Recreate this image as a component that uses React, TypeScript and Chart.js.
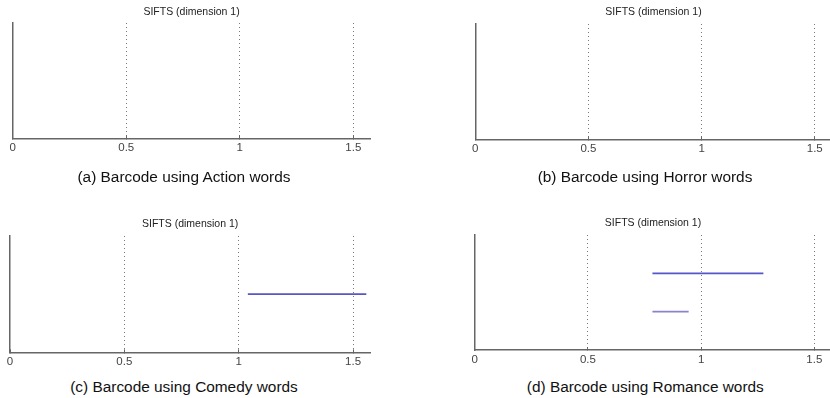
import React, { useEffect, useRef } from "react";
import { Chart, registerables } from "chart.js";

Chart.register(...registerables);

// ---- data ----
const xTickValues = [0, 0.5, 1, 1.5];
const xAxisMax = 1.575;
const panelTitle = "SIFTS (dimension 1)";
const captions = [
  "(a) Barcode using Action words",
  "(b) Barcode using Horror words",
  "(c) Barcode using Comedy words",
  "(d) Barcode using Romance words",
];

const actionStart: number[] = [];
const actionEnd: number[] = [];
const actionLevel: number[] = [];

const horrorStart: number[] = [];
const horrorEnd: number[] = [];
const horrorLevel: number[] = [];

const comedyStart = [1.04];
const comedyEnd = [1.558];
const comedyLevel = [1];

const romanceStart = [0.785, 0.785];
const romanceEnd = [1.275, 0.945];
const romanceLevel = [2, 1];

const levelMax = [1, 1, 2, 3];
const barColors = ["#5656c6", "#8a82ca"];

// ---- layout (pixels) ----
const FONT = "'Liberation Sans', Arial, Helvetica, sans-serif";
type Geo = {
  left: number; top: number; width: number; height: number;
  areaLeft: number; areaRight: number; areaTop: number; areaBottom: number;
  titleY: number; captionX: number; captionY: number;
};
const geos: Geo[] = [
  { left: 0, top: 0, width: 400, height: 175, areaLeft: 12.7, areaRight: 370.4, areaTop: 23, areaBottom: 138.3, titleY: 11.7, captionX: 184, captionY: 177 },
  { left: 415, top: 0, width: 420, height: 175, areaLeft: 475.3, areaRight: 831.7, areaTop: 24, areaBottom: 139.3, titleY: 12, captionX: 645, captionY: 177 },
  { left: 0, top: 200, width: 400, height: 175, areaLeft: 10, areaRight: 370.2, areaTop: 236, areaBottom: 352.3, titleY: 224.2, captionX: 184, captionY: 386.7 },
  { left: 415, top: 200, width: 420, height: 175, areaLeft: 474.7, areaRight: 831.3, areaTop: 235, areaBottom: 350, titleY: 223.5, captionX: 645.3, captionY: 386.7 },
];

const panelStarts = [actionStart, horrorStart, comedyStart, romanceStart];
const panelEnds = [actionEnd, horrorEnd, comedyEnd, romanceEnd];
const panelLevels = [actionLevel, horrorLevel, comedyLevel, romanceLevel];

const X_AXIS_H = 20;
const TITLE_LH = 12.6; // 10.5px * 1.2

function Panel({ idx }: { idx: number }) {
  const ref = useRef<HTMLCanvasElement | null>(null);
  const g = geos[idx];
  useEffect(() => {
    if (!ref.current) return;
    const starts = panelStarts[idx];
    const ends = panelEnds[idx];
    const levels = panelLevels[idx];
    const titleTopPad = g.titleY - g.top - TITLE_LH / 2;
    const titleBottomPad = g.areaTop - g.titleY - TITLE_LH / 2;
    const chart = new Chart(ref.current, {
      type: "line",
      data: {
        datasets: starts.map((s, i) => ({
          data: [
            { x: s, y: levels[i] },
            { x: ends[i], y: levels[i] },
          ],
          borderColor: barColors[i % barColors.length],
          backgroundColor: barColors[i % barColors.length],
          borderWidth: 1.6,
          pointRadius: 0,
          fill: false,
          tension: 0,
        })),
      },
      options: {
        animation: false,
        responsive: false,
        maintainAspectRatio: false,
        events: [],
        layout: {
          padding: {
            left: g.areaLeft - g.left,
            right: g.left + g.width - g.areaRight,
            top: 0,
            bottom: g.top + g.height - g.areaBottom - X_AXIS_H,
          },
        },
        plugins: {
          legend: { display: false },
          tooltip: { enabled: false },
          title: {
            display: true,
            text: panelTitle,
            fullSize: false,
            color: "#222",
            font: { family: FONT, size: 10.5, weight: "normal", lineHeight: 1.2 },
            padding: { top: titleTopPad, bottom: titleBottomPad },
          },
        },
        scales: {
          x: {
            type: "linear",
            min: 0,
            max: xAxisMax,
            afterBuildTicks: (s: any) => {
              s.ticks = xTickValues.map((v) => ({ value: v }));
            },
            afterFit: (s: any) => {
              s.height = X_AXIS_H;
            },
            ticks: {
              color: "#444",
              font: { family: FONT, size: 11.5 },
              padding: 6,
              maxRotation: 0,
              autoSkip: false,
              callback: (v: any) => String(v),
            },
            grid: {
              color: (c: any) => (c.tick && c.tick.value === 0 ? "rgba(0,0,0,0)" : "#7a7a7a"),
              lineWidth: 1,
              drawTicks: true,
              tickLength: -3,
              tickColor: "#666",
              tickWidth: 1,
              tickBorderDash: [],
            },
            border: { display: true, color: "#666", width: 1.5, dash: [1, 3] },
          },
          y: {
            type: "linear",
            min: 0,
            max: levelMax[idx],
            ticks: { display: false },
            grid: { display: false, drawTicks: false },
            border: { display: true, color: "#666", width: 1.5 },
            afterFit: (s: any) => {
              s.width = 0;
            },
          },
        },
      },
    } as any);
    return () => chart.destroy();
  }, [idx]);
  return (
    <canvas
      ref={ref}
      width={g.width}
      height={g.height}
      style={{ position: "absolute", left: g.left, top: g.top, width: g.width, height: g.height }}
    />
  );
}

export default function App() {
  return (
    <div
      style={{
        position: "fixed",
        left: 0,
        top: 0,
        width: 830,
        height: 398,
        overflow: "hidden",
        background: "#fff",
      }}
    >
      {geos.map((g, i) => (
        <Panel key={i} idx={i} />
      ))}
      {geos.map((g, i) => (
        <div
          key={"c" + i}
          style={{
            position: "absolute",
            left: g.captionX - 200,
            width: 400,
            top: g.captionY - 9,
            height: 18,
            lineHeight: "18px",
            textAlign: "center",
            fontFamily: FONT,
            fontSize: 15.4,
            color: "#111",
            whiteSpace: "nowrap",
          }}
        >
          {captions[i]}
        </div>
      ))}
    </div>
  );
}
